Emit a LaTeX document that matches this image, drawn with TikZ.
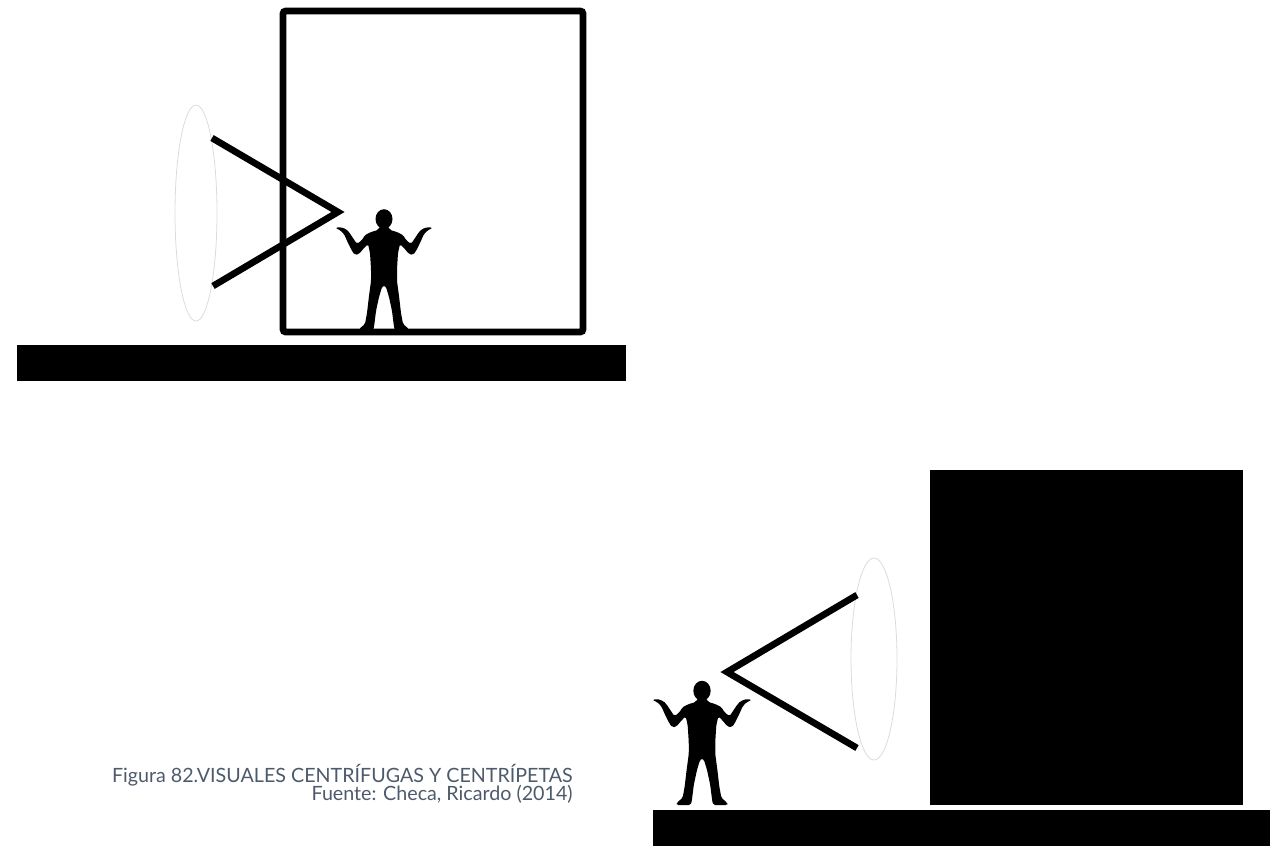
\documentclass[tikz,border=0pt]{standalone}
\usepackage{fontspec}
\setmainfont{Lato}
\begin{document}
\begin{tikzpicture}[x=0.02cm,y=-0.02cm,
  outline box/.style={line width=3.8pt, rounded corners=1.5pt},
  view cone/.style={line width=3.8pt, line join=miter},
  view field/.style={draw=black!14, line width=0.45pt},
  ground/.style={fill=black},
  caption/.style={anchor=base east, text=captiongray, font=\fontsize{11.2}{13}\selectfont, inner sep=0pt},
  person/.pic={
    \begin{scope}[yscale=-1]
      \fill (0,112) ellipse [x radius=8.5, y radius=9.8];
      \fill[rounded corners=1pt]
        (-4,105) -- (-6,101) -- (-13,99) -- (-19,96) -- (-22,91) -- (-27,87)
        -- (-31,93) -- (-35,99) -- (-38,102) -- (-44,104) -- (-49,103)
        -- (-44,101) -- (-40,97) -- (-36,88) -- (-32,80) -- (-29,76) -- (-25,77)
        -- (-20,83) -- (-16,87) -- (-14,78) -- (-13,62) -- (-13,50) -- (-15,35)
        -- (-17,18) -- (-19,7) -- (-25,2) -- (-25,0) -- (-11,0) -- (-10,4)
        -- (-8,20) -- (-5,34) -- (-2,44) -- (0,46)
        -- (2,44) -- (5,34) -- (8,20) -- (10,4) -- (11,0) -- (25,0) -- (25,2)
        -- (19,7) -- (17,18) -- (15,35) -- (13,50) -- (13,62) -- (14,78)
        -- (16,87) -- (20,83) -- (25,77) -- (29,76) -- (32,80) -- (36,88)
        -- (40,97) -- (44,101) -- (49,103) -- (44,104) -- (38,102) -- (35,99)
        -- (31,93) -- (27,87) -- (22,91) -- (19,96) -- (13,99) -- (6,101)
        -- (4,105) -- cycle;
    \end{scope}
  }]
\definecolor{captiongray}{HTML}{4D5A6B}
\useasboundingbox (0,0) rectangle (1270,846);

% --- upper scene: open box, the gaze goes outward ---
\fill[ground] (17,345) rectangle (626,381);
\draw[outline box] (283,11) rectangle (583,332);
\draw[view field] (196,213) ellipse [x radius=21, y radius=108];
\coordinate (tA) at (212,138);
\coordinate (tApex) at (338,212);
\coordinate (tB) at (213,286);
\draw[view cone] (tA) -- (tApex) -- (tB);
\pic at (384,331) {person};

% --- lower scene: solid block, the gaze goes inward ---
\fill[ground] (653,810) rectangle (1270,846);
\fill (930,470) rectangle (1243,805);
\draw[view field] (874,659) ellipse [x radius=23, y radius=101];
\coordinate (bA) at (857,595);
\coordinate (bApex) at (727,672);
\coordinate (bB) at (857,748);
\draw[view cone] (bA) -- (bApex) -- (bB);
\pic[scale=1.02] at (702,805) {person};

% --- caption ---
\node[caption] (title) at (573,782) {Figura 82.VISUALES CENTRÍFUGAS Y CENTRÍPETAS};
\node[caption] (source) at (573,800) {Fuente: Checa, Ricardo (2014)};
\end{tikzpicture}
\end{document}
